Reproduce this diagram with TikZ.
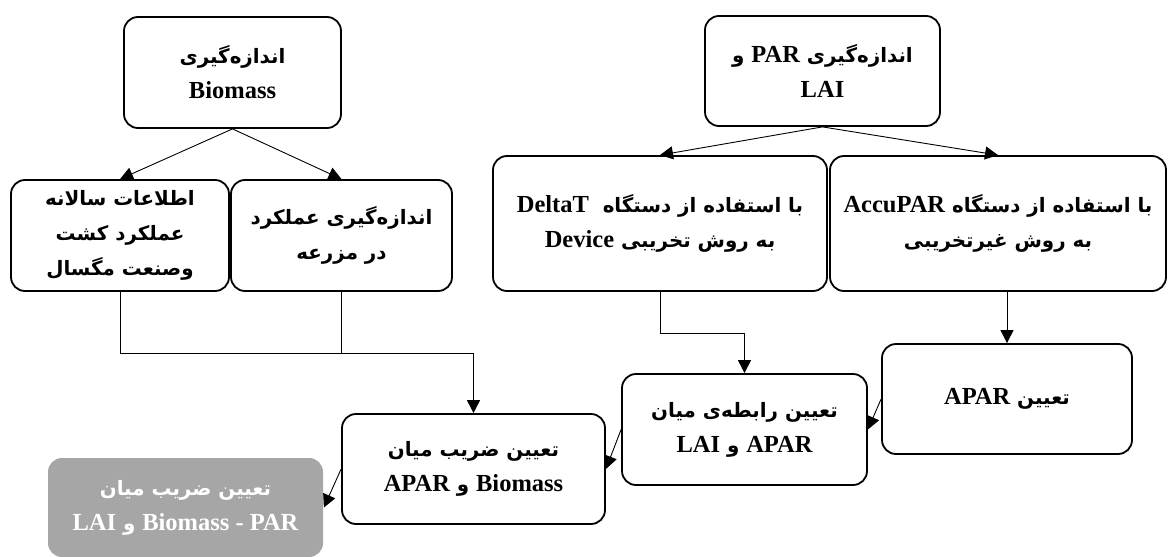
\documentclass[tikz,border=0pt]{standalone}
\usepackage{fontspec}
\setmainfont{Liberation Serif}
\newfontfamily\fafont[Script=Arabic,Scale=0.81]{DejaVu Sans}
\TeXXeTstate=1
\usetikzlibrary{arrows.meta}
\definecolor{boxgray}{RGB}{166,166,166}
\newcommand\fa[1]{{\fafont\beginR #1\endR}}
\newcommand\en[1]{\beginL{\rmfamily #1}\endL{}}

\begin{document}
\begin{tikzpicture}[x=1pt,y=-1pt,>={Triangle[length=13pt,width=13pt]},
  flow box/.style={draw,line width=1.8pt,rounded corners=14pt,align=center,
    inner sep=0pt,font=\fontsize{24.5}{35}\selectfont\bfseries},
  result box/.style={flow box,draw=none,fill=boxgray,text=white},
  boxsize/.style 2 args={minimum width=#1pt,minimum height=#2pt}]

  \useasboundingbox (0,0) rectangle (1168,557);

  \node[flow box,boxsize={217}{111}] (msrBio) at (232.5,72.5)
    {\fa{اندازه^^^^200cگیری}\\Biomass};
  \node[flow box,boxsize={235}{110}] (msrPar) at (822.5,71)
    {\fa{اندازه^^^^200cگیری \en{PAR} و}\\LAI};
  \node[flow box,boxsize={218}{111}] (yieldStat) at (120,235.5)
    {\fa{اطلاعات سالانه}\\\fa{عملکرد کشت}\\\fa{وصنعت مگسال}};
  \node[flow box,boxsize={221}{111}] (yieldFarm) at (341.5,235.5)
    {\fa{اندازه^^^^200cگیری عملکرد}\\\fa{در مزرعه}};
  \node[flow box,boxsize={334}{135}] (deltaT) at (660,223.5)
    {\fa{با استفاده از دستگاه\ \ \en{DeltaT}}\\\fa{به روش تخریبی \en{Device}}};
  \node[flow box,boxsize={336}{135}] (accuPar) at (998,223.5)
    {\fa{با استفاده از دستگاه \en{AccuPAR}}\\\fa{به روش غیرتخریبی}};
  \node[flow box,boxsize={250}{110}] (apar) at (1007,399)
    {\fa{تعیین \en{APAR}}};
  \node[flow box,boxsize={245}{111}] (relLai) at (744.5,429.5)
    {\fa{تعیین رابطه^^^^200cی میان}\\\fa{\en{APAR} و \en{LAI}}};
  \node[flow box,boxsize={263}{110}] (coefBio) at (473.5,469)
    {\fa{تعیین ضریب میان}\\\fa{\en{Biomass} و \en{APAR}}};
  \node[result box,boxsize={275}{99}] (coefPar) at (185.5,507.5)
    {\fa{تعیین ضریب میان}\\\fa{\en{Biomass - PAR} و \en{LAI}}};

  \coordinate (joinL) at (473.5,353);
  \coordinate (joinR) at (744.5,333);

  \path[->,line width=0.9pt]
    (msrBio.south) edge (yieldStat.north)
                   edge (yieldFarm.north)
    (msrPar.south) edge (deltaT.north)
                   edge (accuPar.north)
    (apar.north |- accuPar.south) edge (apar.north)
    (apar.west) edge (relLai.east)
    (relLai.west) edge (coefBio.east)
    (coefBio.west) edge (coefPar.east);

  \draw[->,line width=0.9pt] (yieldStat.south) |- (joinL) -- (coefBio.north);
  \draw[line width=0.9pt] (yieldFarm.south) -- (yieldFarm.south |- joinL);
  \draw[->,line width=0.9pt] (deltaT.south) |- (joinR) -- (relLai.north);
\end{tikzpicture}
\end{document}
